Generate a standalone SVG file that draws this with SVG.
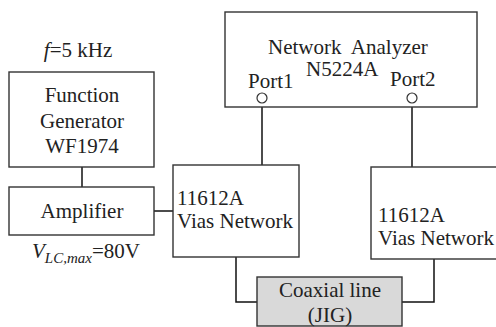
<svg xmlns="http://www.w3.org/2000/svg" width="496" height="327" viewBox="0 0 496 327">
<style>
.box{fill:#fff;stroke:#333;stroke-width:1.4}
.coax{fill:#d9d9d9;stroke:#333;stroke-width:1.4}
.port{fill:#fff;stroke:#333;stroke-width:1.2}
.wire{fill:none;stroke:#111;stroke-width:1.5}
.t{font-family:'Times New Roman','Liberation Serif',Tinos,'DejaVu Serif','Noto Serif',serif;font-size:21px;fill:#222}
.c{text-anchor:middle}
.i{font-style:italic}
</style>
<rect width="496" height="327" fill="#fff"/>
<g id="connectors">
<line class="wire" x1="82" y1="167" x2="82" y2="187"/>
<line class="wire" x1="154" y1="211" x2="173" y2="211"/>
<line class="wire" x1="262" y1="103" x2="262" y2="165"/>
<line class="wire" x1="412" y1="103" x2="412" y2="167"/>
<polyline class="wire" points="236,257 236,302 257,302"/>
<polyline class="wire" points="402,302 434,302 434,259"/>
</g>
<g id="freq"><text class="t c" x="78" y="57"><tspan class="i">f</tspan>=5 kHz</text></g>
<g id="function-generator">
<rect class="box" x="9" y="72" width="145" height="95"/>
<text class="t c" x="82" y="102">Function</text>
<text class="t c" x="82" y="128">Generator</text>
<text class="t c" x="82" y="153">WF1974</text>
</g>
<g id="amplifier">
<rect class="box" x="9" y="187" width="145" height="48"/>
<text class="t c" x="82" y="218">Amplifier</text>
</g>
<g id="vlc"><text class="t" x="32" y="258"><tspan class="i">V</tspan><tspan class="i" font-size="15" dy="5">LC,max</tspan><tspan dy="-5">=80V</tspan></text></g>
<g id="network-analyzer">
<rect class="box" x="225" y="12" width="252" height="95"/>
<text class="t" x="268" y="54" xml:space="preserve">Network  Analyzer</text>
<text class="t" x="306" y="76">N5224A</text>
<text class="t" x="248" y="88">Port1</text>
<text class="t" x="390" y="86">Port2</text>
<circle class="port" cx="262" cy="98" r="5"/>
<circle class="port" cx="412" cy="98" r="5"/>
</g>
<g id="vias1">
<rect class="box" x="173" y="165" width="126" height="92"/>
<text class="t" x="177" y="205">11612A</text>
<text class="t" x="177" y="228">Vias Network</text>
</g>
<g id="vias2">
<rect class="box" x="371" y="167" width="127" height="92"/>
<text class="t" x="378" y="222">11612A</text>
<text class="t" x="378" y="245">Vias Network</text>
</g>
<g id="coax">
<rect class="coax" x="257" y="277" width="145" height="49"/>
<text class="t c" x="330" y="297">Coaxial line</text>
<text class="t c" x="330" y="322">(JIG)</text>
</g>
</svg>
